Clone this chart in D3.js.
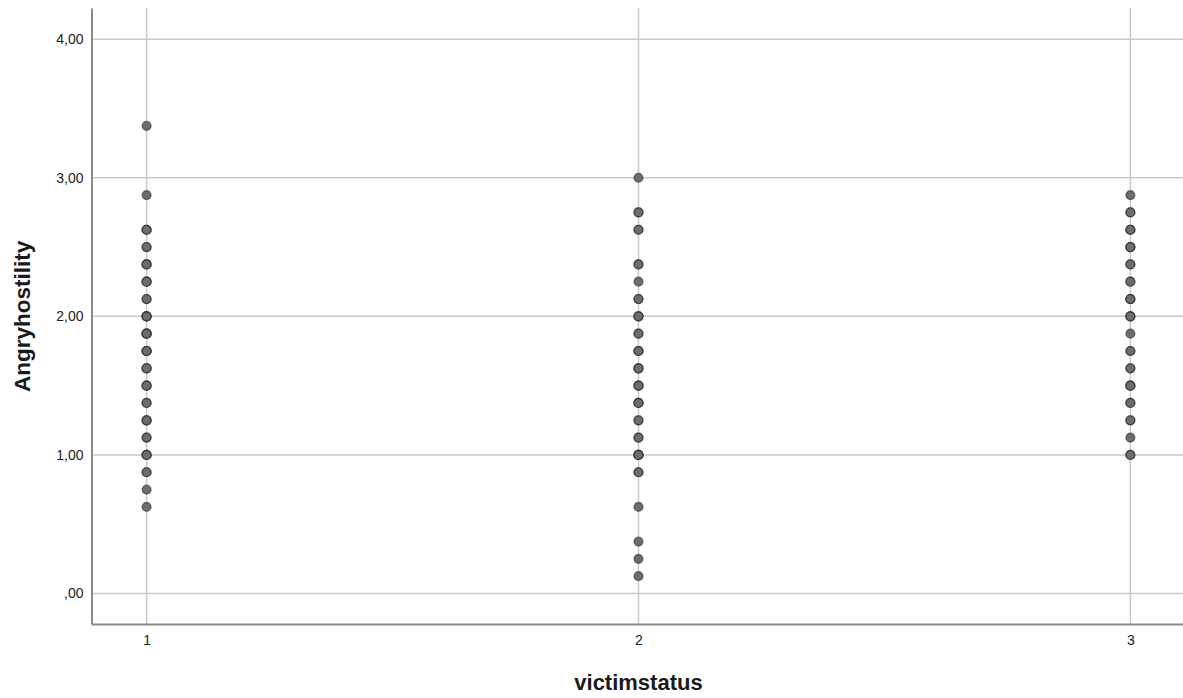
<!DOCTYPE html>
<html>
<head>
<meta charset="utf-8">
<script src="https://cdn.jsdelivr.net/npm/d3@7"></script>
<style>
  html, body { margin: 0; padding: 0; background: #ffffff; }
  svg { display: block; font-family: "Liberation Sans", Arial, sans-serif; }
</style>
</head>
<body>
<svg id="chart" width="1183" height="698"></svg>
<script>
// Angry/hostility score per victim status group (each distinct value)
const group1Values = [3.375, 2.875, 2.625, 2.5, 2.375, 2.25, 2.125, 2.0, 1.875, 1.75, 1.625, 1.5, 1.375, 1.25, 1.125, 1.0, 0.875, 0.75, 0.625];
const group1Cases  = [1, 1, 3, 2, 3, 3, 2, 4, 4, 4, 3, 3, 2, 3, 2, 3, 2, 1, 1];
const group2Values = [3.0, 2.75, 2.625, 2.375, 2.25, 2.125, 2.0, 1.875, 1.75, 1.625, 1.5, 1.375, 1.25, 1.125, 1.0, 0.875, 0.625, 0.375, 0.25, 0.125];
const group2Cases  = [1, 2, 2, 2, 1, 2, 3, 2, 3, 3, 3, 3, 2, 2, 4, 2, 1, 1, 1, 1];
const group3Values = [2.875, 2.75, 2.625, 2.5, 2.375, 2.25, 2.125, 2.0, 1.875, 1.75, 1.625, 1.5, 1.375, 1.25, 1.125, 1.0];
const group3Cases  = [1, 2, 3, 3, 2, 2, 3, 3, 1, 2, 2, 3, 2, 2, 1, 2];

const xTicks = [1, 2, 3];
const yTicks = [0, 1, 2, 3, 4];
const xTitle = "victimstatus";
const yTitle = "Angryhostility";

const groups = [
  { status: 1, values: group1Values, cases: group1Cases },
  { status: 2, values: group2Values, cases: group2Cases },
  { status: 3, values: group3Values, cases: group3Cases }
];

const svg = d3.select("#chart");
const plot = { left: 91.5, right: 1183, top: 8, bottom: 624 };

const x = d3.scaleLinear().domain([0.888, 3.107]).range([plot.left, plot.right]);
const y = d3.scaleLinear().domain([-0.22, 4.225]).range([plot.bottom, plot.top]);

const gridColor = "#c9c9c9";

// vertical gridlines
svg.append("g").selectAll("line").data(xTicks).join("line")
  .attr("x1", d => x(d)).attr("x2", d => x(d))
  .attr("y1", plot.top).attr("y2", plot.bottom)
  .attr("stroke", gridColor).attr("stroke-width", 1.5);

// horizontal gridlines
svg.append("g").selectAll("line").data(yTicks).join("line")
  .attr("x1", plot.left).attr("x2", plot.right)
  .attr("y1", d => y(d)).attr("y2", d => y(d))
  .attr("stroke", gridColor).attr("stroke-width", 1.5);

// y axis
const yAxis = svg.append("g").attr("transform", `translate(${plot.left},0)`)
  .call(d3.axisLeft(y).tickValues(yTicks).tickSize(0).tickPadding(8)
    .tickFormat(d => d === 0 ? ",00" : d3.format(".2f")(d).replace(".", ",")));
yAxis.select(".domain").attr("stroke", "#8a8a8a").attr("stroke-width", 2);
yAxis.selectAll("text").attr("font-size", 14).attr("fill", "#222")
  .attr("font-family", "'Liberation Sans', Arial, sans-serif");

// x axis
const xAxis = svg.append("g").attr("transform", `translate(0,${plot.bottom})`)
  .call(d3.axisBottom(x).tickValues(xTicks).tickSize(0).tickPadding(11)
    .tickFormat(d3.format("d")));
xAxis.select(".domain").attr("stroke", "#8a8a8a").attr("stroke-width", 2);
xAxis.selectAll("text").attr("font-size", 14).attr("fill", "#222")
  .attr("font-family", "'Liberation Sans', Arial, sans-serif");

// points: one circle per case, overlapping cases darken the ring
const pts = [];
groups.forEach(g => g.values.forEach((v, i) => {
  for (let k = 0; k < g.cases[i]; k++) pts.push({ status: g.status, value: v });
}));

svg.append("g").selectAll("circle").data(pts).join("circle")
  .attr("cx", d => x(d.status))
  .attr("cy", d => y(d.value))
  .attr("r", 4.4)
  .attr("fill", "#6d6d6d")
  .attr("stroke", "#222222")
  .attr("stroke-opacity", 0.55)
  .attr("stroke-width", 1.4);

// axis titles
svg.append("text")
  .attr("x", x(2)).attr("y", 690)
  .attr("text-anchor", "middle")
  .attr("font-size", 22).attr("font-weight", "bold").attr("fill", "#1a1a1a")
  .text(xTitle);

svg.append("text")
  .attr("transform", `translate(30,${y(2)}) rotate(-90)`)
  .attr("text-anchor", "middle")
  .attr("font-size", 22.5).attr("font-weight", "bold").attr("fill", "#1a1a1a")
  .text(yTitle);
</script>
</body>
</html>
